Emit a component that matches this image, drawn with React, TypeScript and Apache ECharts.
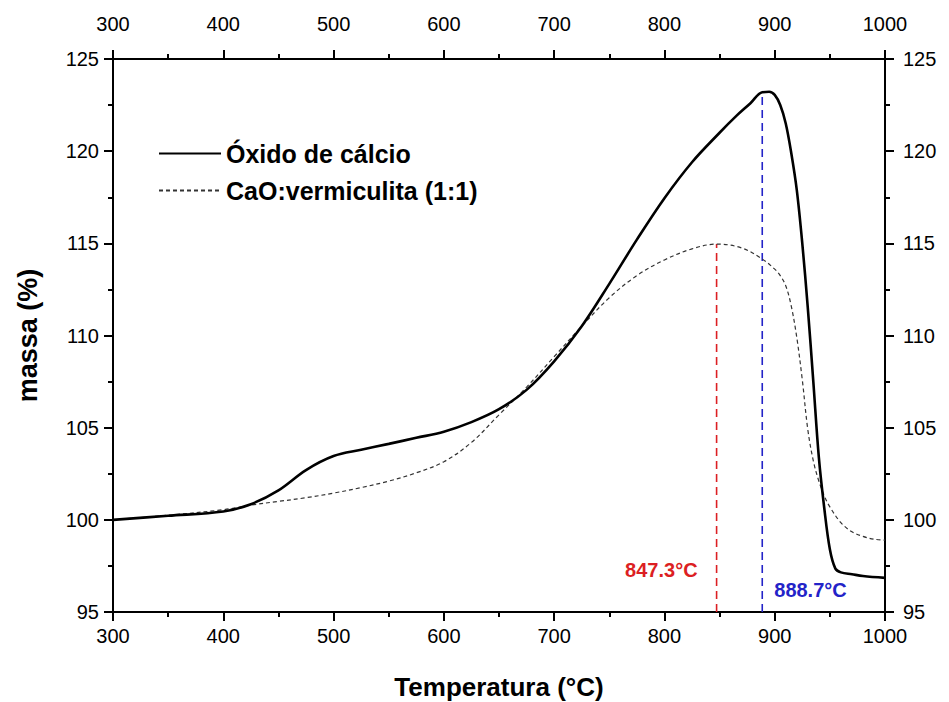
import React, { useEffect, useRef } from "react";
import * as echarts from "echarts";

const FONT = "'Liberation Sans', Arial, sans-serif";

const oxidoTemp = [300, 350, 400, 425, 450, 475, 500, 525, 550, 575, 600, 625, 650, 675, 700, 725, 750, 775, 800, 825, 850, 865, 878, 888.7, 895, 900, 905, 910, 915, 920, 925, 930, 935, 940, 945, 950, 955, 960, 970, 980, 1000];
const oxidoMassa = [100.0, 100.22, 100.45, 100.85, 101.6, 102.7, 103.46, 103.8, 104.12, 104.45, 104.78, 105.3, 106.0, 107.05, 108.6, 110.5, 112.8, 115.2, 117.45, 119.4, 121.0, 121.9, 122.6, 123.2, 123.22, 123.05, 122.5, 121.5, 119.9, 117.9, 115.0, 111.5, 107.5, 103.4, 100.6, 98.4, 97.35, 97.15, 97.05, 96.95, 96.85];

const vermTemp = [300, 350, 400, 425, 450, 475, 500, 525, 550, 575, 600, 625, 650, 675, 700, 725, 750, 775, 800, 825, 847.3, 870, 888.7, 900, 905, 910, 915, 920, 925, 930, 935, 940, 945, 950, 960, 970, 980, 990, 1000];
const vermMassa = [100.0, 100.25, 100.55, 100.8, 101.0, 101.2, 101.45, 101.75, 102.1, 102.55, 103.15, 104.2, 105.7, 107.2, 108.85, 110.5, 112.05, 113.25, 114.1, 114.7, 114.96, 114.75, 114.15, 113.6, 113.25, 112.7, 111.6, 109.9, 107.6, 104.9, 103.2, 102.1, 101.3, 100.7, 99.85, 99.35, 99.1, 98.95, 98.9];

const peakTemps = [847.3, 888.7];
const peakTops = [114.96, 123.2];
const peakLabels = ["847.3°C", "888.7°C"];
const peakLabelY = [97.27, 96.22];
const peakColors = ["#dc1f23", "#2323c8"];

const X_MIN = 300, X_MAX = 1000, Y_MIN = 95, Y_MAX = 125;

export default function App() {
  const ref = useRef<HTMLDivElement>(null);
  useEffect(() => {
    if (!ref.current) return;
    const chart = echarts.init(ref.current, undefined, { renderer: "svg" });
    const label = { color: "#000", fontSize: 20, fontFamily: FONT, formatter: (v: number) => String(v) };
    const axisCommon = {
      type: "value" as const,
      axisLine: { show: true, onZero: false, lineStyle: { color: "#000", width: 2 } },
      axisTick: { show: true, inside: false, length: 9, lineStyle: { color: "#000", width: 2 } },
      minorTick: { show: true, splitNumber: 2, length: 5, lineStyle: { color: "#000", width: 2 } },
      splitLine: { show: false },
    };
    const xCommon = { ...axisCommon, min: X_MIN, max: X_MAX, interval: 100 };
    const yCommon = { ...axisCommon, min: Y_MIN, max: Y_MAX, interval: 5 };

    const series: any[] = [
      {
        name: "Óxido de cálcio",
        type: "line",
        data: oxidoTemp.map((t, i) => [t, oxidoMassa[i]]),
        showSymbol: false,
        symbol: "none",
        smooth: 0.35,
        lineStyle: { color: "#000", width: 2.6 },
        itemStyle: { color: "#000" },
        z: 5,
      },
      {
        name: "CaO:vermiculita (1:1)",
        type: "line",
        data: vermTemp.map((t, i) => [t, vermMassa[i]]),
        showSymbol: false,
        symbol: "none",
        smooth: 0.35,
        lineStyle: { color: "#333", width: 1.2, type: [4, 3] },
        itemStyle: { color: "#333" },
        z: 4,
      },
    ];
    peakTemps.forEach((t, i) => {
      series.push({
        name: "peak" + i,
        type: "line",
        data: [[t, Y_MIN], [t, peakTops[i]]],
        showSymbol: false,
        symbol: "none",
        lineStyle: { color: peakColors[i], width: 1.6, type: [8, 5] },
        z: 3,
      });
      series.push({
        name: "label" + i,
        type: "scatter",
        data: [[t, peakLabelY[i]]],
        symbolSize: 0,
        itemStyle: { color: peakColors[i], opacity: 1 },
        label: {
          show: true,
          formatter: peakLabels[i],
          position: i === 0 ? "left" : "right",
          distance: i === 0 ? 19 : 12,
          color: peakColors[i],
          opacity: 1,
          fontSize: 20,
          fontWeight: "bold",
          fontFamily: FONT,
        },
      });
    });

    chart.setOption({
      animation: false,
      backgroundColor: "#fff",
      grid: { left: 113, right: 64, top: 59, bottom: 90, containLabel: false, outerBoundsMode: "none" },
      legend: {
        data: ["Óxido de cálcio", "CaO:vermiculita (1:1)"],
        orient: "vertical",
        left: 153,
        top: 136,
        itemWidth: 62,
        itemHeight: 14,
        itemGap: 12,
        itemStyle: { opacity: 0 },
        textStyle: { color: "#000", fontSize: 25, fontWeight: "bold", fontFamily: FONT },
      },
      xAxis: [
        {
          ...xCommon,
          position: "bottom",
          axisLabel: { ...label, margin: 14 },
          name: "Temperatura (°C)",
          nameLocation: "middle",
          nameGap: 62,
          nameTextStyle: { color: "#000", fontSize: 26, fontWeight: "bold", fontFamily: FONT },
        },
        {
          ...xCommon,
          position: "top",
          axisLabel: { ...label, margin: 25 },
        },
      ],
      yAxis: [
        {
          ...yCommon,
          position: "left",
          axisLabel: { ...label, margin: 14 },
          name: "massa (%)",
          nameLocation: "middle",
          nameGap: 72,
          nameTextStyle: { color: "#000", fontSize: 27, fontWeight: "bold", fontFamily: FONT },
        },
        {
          ...yCommon,
          position: "right",
          axisLabel: { ...label, margin: 18 },
        },
      ],
      series,
    });
    return () => chart.dispose();
  }, []);
  return <div ref={ref} style={{ width: 949, height: 702, position: "absolute", left: 0, top: 0 }} />;
}
